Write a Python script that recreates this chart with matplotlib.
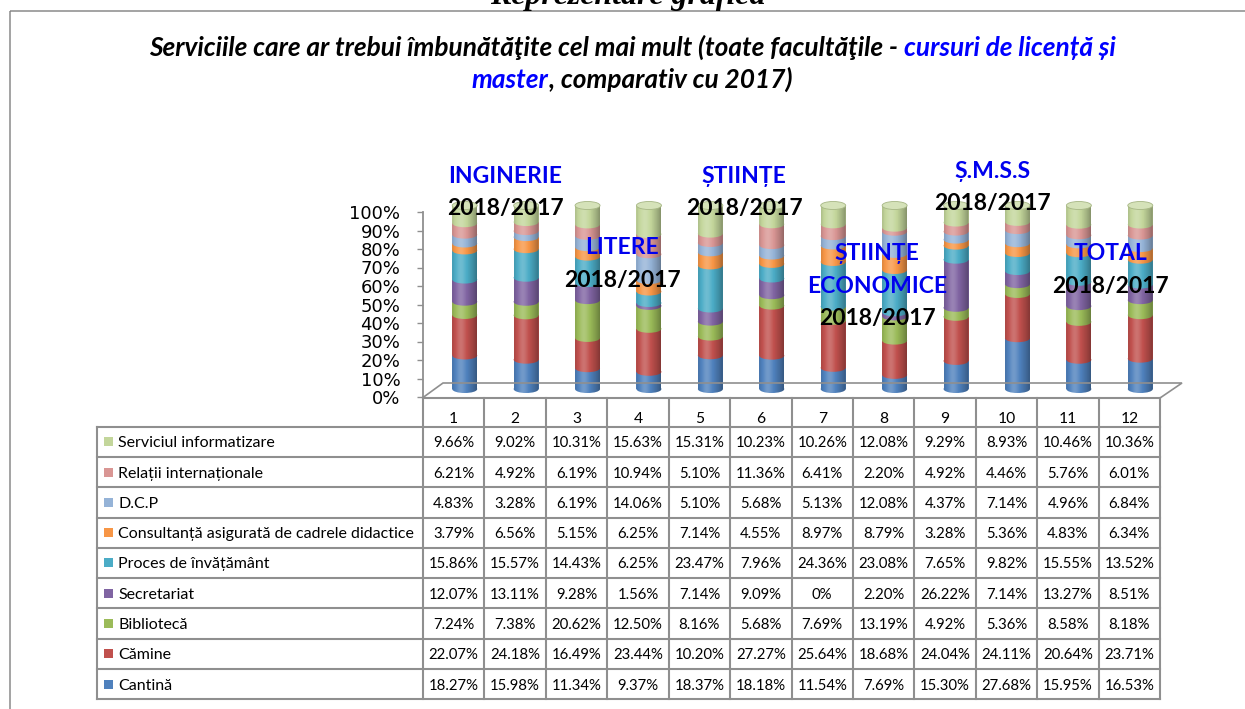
import numpy as np
import matplotlib
matplotlib.use("Agg")
import matplotlib.pyplot as plt
from matplotlib.patches import Ellipse, Rectangle, PathPatch
from matplotlib.path import Path

# ---------------- data ----------------
columns = ["1", "2", "3", "4", "5", "6", "7", "8", "9", "10", "11", "12"]

cantina = [18.27, 15.98, 11.34, 9.37, 18.37, 18.18, 11.54, 7.69, 15.30, 27.68, 15.95, 16.53]
camine = [22.07, 24.18, 16.49, 23.44, 10.20, 27.27, 25.64, 18.68, 24.04, 24.11, 20.64, 23.71]
biblioteca = [7.24, 7.38, 20.62, 12.50, 8.16, 5.68, 7.69, 13.19, 4.92, 5.36, 8.58, 8.18]
secretariat = [12.07, 13.11, 9.28, 1.56, 7.14, 9.09, 0, 2.20, 26.22, 7.14, 13.27, 8.51]
proces = [15.86, 15.57, 14.43, 6.25, 23.47, 7.96, 24.36, 23.08, 7.65, 9.82, 15.55, 13.52]
consultanta = [3.79, 6.56, 5.15, 6.25, 7.14, 4.55, 8.97, 8.79, 3.28, 5.36, 4.83, 6.34]
dcp = [4.83, 3.28, 6.19, 14.06, 5.10, 5.68, 5.13, 12.08, 4.37, 7.14, 4.96, 6.84]
relatii = [6.21, 4.92, 6.19, 10.94, 5.10, 11.36, 6.41, 2.20, 4.92, 4.46, 5.76, 6.01]
informatizare = [9.66, 9.02, 10.31, 15.63, 15.31, 10.23, 10.26, 12.08, 9.29, 8.93, 10.46, 10.36]

series_names = ["Cantină", "Cămine", "Bibliotecă", "Secretariat", "Proces de învățământ",
                "Consultanță asigurată de cadrele didactice", "D.C.P",
                "Relații internaționale", "Serviciul informatizare"]
series_values = [cantina, camine, biblioteca, secretariat, proces, consultanta, dcp,
                 relatii, informatizare]
series_colors = ["#4F81BD", "#C0504D", "#9BBB59", "#8064A2", "#4BACC6", "#F79646",
                 "#95B3D7", "#D99694", "#C3D69B"]

y_ticks = [0, 10, 20, 30, 40, 50, 60, 70, 80, 90, 100]

group_labels = ["INGINERIE", "LITERE", "ȘTIINȚE", "ȘTIINȚE\nECONOMICE", "Ș.M.S.S", "TOTAL"]
group_sub = "2018/2017"

title_line1 = [("Serviciile care ar trebui îmbunătăţite cel mai mult (toate facultăţile - ", "black"),
               ("cursuri de licență și", "#0000FF")]
title_line2 = [("master", "#0000FF"), (", comparativ cu 2017)", "black")]
top_text = "Reprezentare grafică"

# ---------------- figure ----------------
W, H = 1245, 709
fig = plt.figure(figsize=(W / 100, H / 100), dpi=100)
renderer = fig.canvas.get_renderer()


def fx(px):
    return px / W


def fy(py):
    return 1 - py / H


GRID = "#8f8f8f"
SANS = ["Lato", "DejaVu Sans"]

# ---- bars axes (3D-shifted plot area) ----
ppu = 183.5 / 100.0          # pixels per percent unit
y0_px = 389.0                # pixel of 0%
ax_bar = fig.add_axes([fx(434), fy(y0_px + 5 * ppu), (1171 - 434) / W, 110 * ppu / H])
ax_bar.set_xlim(0.5, 12.5)
ax_bar.set_ylim(-5, 105)
ax_bar.axis("off")

vals = np.array(series_values, dtype=float)
pct = vals / vals.sum(axis=0) * 100.0
x = np.arange(1, len(columns) + 1)
bw = 25 / 61.42
eh = 8 / ppu

bottom = np.zeros(len(columns))
for k, (name, col) in enumerate(zip(series_names, series_colors)):
    h = pct[k]
    z = 2 + k * 0.1
    ax_bar.bar(x, h, bw, bottom=bottom, color=col, zorder=z, linewidth=0)
    for xi, b, hi in zip(x, bottom, h):
        if hi > 0:
            ax_bar.add_patch(Ellipse((xi, b), bw, eh, facecolor=col, edgecolor="none",
                                     zorder=z + 0.01))
    bottom = bottom + h

# cylinder shading
t = np.linspace(0, 1, 64)
s = 0.20 * np.exp(-((t - 0.35) / 0.2) ** 2) - 0.32 * (np.abs(t - 0.38) / 0.62) ** 2
grad = np.zeros((1, len(t), 4))
grad[0, :, :3] = np.where(s[:, None] > 0, 1.0, 0.0)
grad[0, :, 3] = np.abs(s)

top_col = np.array(matplotlib.colors.to_rgb(series_colors[-1]))
cap_col = top_col + (1 - top_col) * 0.3
cap_edge = top_col * 0.85
theta = np.linspace(np.pi, 2 * np.pi, 40)
for xi, top in zip(x, bottom):
    verts = [(xi - bw / 2, top), (xi - bw / 2, 0)]
    verts += [(xi + bw / 2 * np.cos(a), eh / 2 * np.sin(a)) for a in theta]
    verts += [(xi + bw / 2, top), (xi - bw / 2, top)]
    clip = PathPatch(Path(verts, closed=True), transform=ax_bar.transData,
                     facecolor="none", edgecolor="none")
    im = ax_bar.imshow(grad, extent=[xi - bw / 2, xi + bw / 2, -eh / 2, top],
                       aspect="auto", zorder=4, interpolation="bilinear")
    im.set_clip_path(clip)
    ax_bar.add_patch(Ellipse((xi, top), bw, eh, facecolor=cap_col, edgecolor=cap_edge,
                             linewidth=0.6, zorder=5))
ax_bar.set_xlim(0.5, 12.5)
ax_bar.set_ylim(-5, 105)

# ---- front value axis ----
ax_front = fig.add_axes([fx(423), fy(397), 1 / W, (397 - 212) / H])
ax_front.set_ylim(0, 100)
ax_front.set_xticks([])
ax_front.set_yticks(y_ticks)
ax_front.set_yticklabels([f"{v}%" for v in y_ticks], family="DejaVu Sans", fontsize=13)
ax_front.tick_params(axis="y", length=4.3, width=1, color=GRID, pad=12)
for sp in ["top", "right", "bottom"]:
    ax_front.spines[sp].set_visible(False)
ax_front.spines["left"].set_color(GRID)
ax_front.spines["left"].set_linewidth(1.3)
ax_front.patch.set_visible(False)

# ---- overlay (pixel coordinates) ----
ax_ov = fig.add_axes([0, 0, 1, 1], zorder=10)
ax_ov.set_xlim(0, W)
ax_ov.set_ylim(H, 0)
ax_ov.axis("off")
ax_ov.patch.set_visible(False)


def text_width(txt, size, **props):
    tt = ax_ov.text(0, 0, txt, fontsize=size, **props)
    w = tt.get_window_extent(renderer=renderer).width
    tt.remove()
    return w


def fit(txt, target, **props):
    return 20 * target / text_width(txt, 20, **props)


# frame
ax_ov.add_patch(Rectangle((9.5, 11), W, H, fill=False, edgecolor="#8a8a8a", linewidth=1.1))

# top heading (cut by the page edge, as in the source)
tp = dict(family=["Liberation Serif", "DejaVu Serif"], fontweight="bold", fontstyle="italic")
ax_ov.text(628, 4, top_text, fontsize=fit(top_text, 275, **tp), ha="center", va="baseline", **tp)

# title (multi-colour)
tprops = dict(family=SANS, fontweight="bold", fontstyle="italic")
full1 = "".join(p for p, _ in title_line1)
tsize = fit(full1, 969, **tprops)
bar_w = text_width("|", tsize, **tprops)
for line, base in [(title_line1, 56), (title_line2, 88)]:
    full = "".join(p for p, _ in line)
    total = text_width(full, tsize, **tprops)
    x0 = 632 - total / 2
    prefix = ""
    for piece, colr in line:
        off = text_width(prefix + "|", tsize, **tprops) - bar_w if prefix else 0
        ax_ov.text(x0 + off, base, piece, fontsize=tsize, color=colr, ha="left",
                   va="baseline", **tprops)
        prefix += piece

# floor outline
ax_ov.plot([423, 443, 1182, 1160], [397.5, 383, 383, 398], color=GRID, lw=1.2,
           solid_joinstyle="miter")

# table grid
col_edges = [423 + 61.42 * j for j in range(len(columns) + 1)]
row_h = 30.3
row_edges = [426.6 + row_h * i for i in range(len(series_names) + 1)]
table_left = 97
ax_ov.plot([col_edges[0], col_edges[-1]], [398, 398], color=GRID, lw=1.5)
for ry in row_edges:
    ax_ov.plot([table_left, col_edges[-1]], [ry, ry], color=GRID, lw=1.5)
ax_ov.plot([table_left, table_left], [row_edges[0], row_edges[-1]], color=GRID, lw=1.5)
for cx in col_edges:
    ax_ov.plot([cx, cx], [398, row_edges[-1]], color=GRID, lw=1.5)

cprops = dict(family=SANS)
csize = fit("15.86%", 50, **cprops)
lsize = fit(series_names[5], 296, **cprops)

for j, c in enumerate(columns):
    ax_ov.text((col_edges[j] + col_edges[j + 1]) / 2, 423, c, fontsize=csize * 1.05,
               ha="center", va="baseline", **cprops)

for i, k in enumerate(range(len(series_names) - 1, -1, -1)):
    yc = (row_edges[i] + row_edges[i + 1]) / 2
    ax_ov.add_patch(Rectangle((104, yc - 4.5), 9, 9, facecolor=series_colors[k],
                              edgecolor="none"))
    ax_ov.text(118, yc + 5.5, series_names[k], fontsize=lsize, ha="left",
               va="baseline", **cprops)
    for j in range(len(columns)):
        v = series_values[k][j]
        lab = "0%" if v == 0 else f"{v:.2f}%"
        ax_ov.text((col_edges[j] + col_edges[j + 1]) / 2, yc + 5.5, lab, fontsize=csize,
                   ha="center", va="baseline", **cprops)

# group annotations
aprops = dict(family=SANS, fontweight="bold")
asize = fit(group_sub, 117, **aprops)
group_pos = [(505, 183, 215), (622, 254, 287), (744, 183, 215),
             (877, 260, 325), (992, 178, 210), (1110, 260, 293)]
for lab, (gx, gy, sy) in zip(group_labels, group_pos):
    lines = lab.split("\n")
    for li, ln in enumerate(lines):
        ax_ov.text(gx, gy + li * 33.3, ln, fontsize=asize, color="#0000EE", ha="center",
                   va="baseline", **aprops)
    ax_ov.text(gx, sy, group_sub, fontsize=asize, color="black", ha="center",
               va="baseline", **aprops)

fig.savefig("out.png", dpi=100)
